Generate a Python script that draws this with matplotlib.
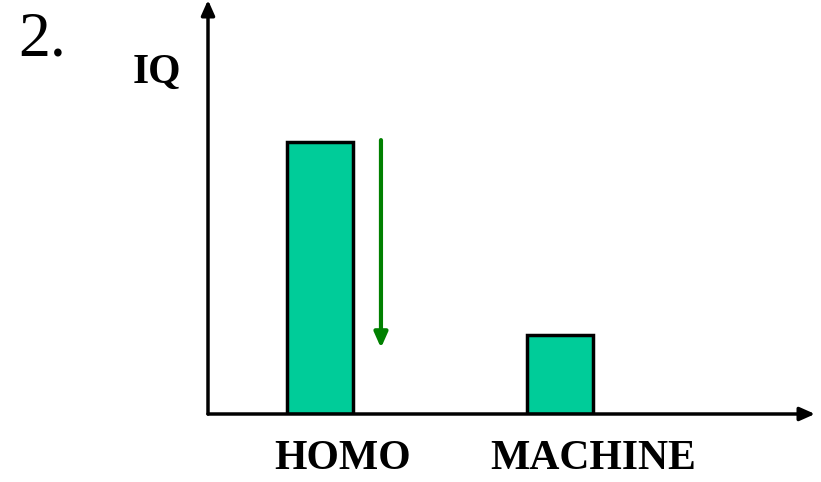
import matplotlib
matplotlib.use("Agg")
import matplotlib.pyplot as plt

# Data
categories = ["HOMO", "MACHINE"]
iq_values = [100, 29]
label_offsets = [0.092, 0.1375]  # labels sit a bit right of bar centers
trend_arrow = (0.254, 100.7, 24.3)  # x, y start, y end

fig = plt.figure(figsize=(8.21, 4.82), dpi=100)
ax = fig.add_axes([208 / 821, 68 / 482, 607 / 821, 414 / 482])

positions = list(range(len(categories)))
ax.bar(positions, iq_values, width=0.275, color="#00CC99", edgecolor="black", linewidth=2.5)
ax.set_xlim(-0.4667, 2.0625)
ax.set_ylim(0, 152.2)

for s in ax.spines.values():
    s.set_visible(False)
ax.set_yticks([])
ax.set_xticks([p + o for p, o in zip(positions, label_offsets)])
ax.set_xticklabels(categories, fontfamily="Liberation Serif", fontweight="bold", fontsize=30)
ax.tick_params(axis="x", length=0, pad=19)

# axis arrows
arrow_kw = dict(arrowstyle="-|>,head_length=0.9,head_width=0.4", color="black", lw=2.5, shrinkA=0, shrinkB=0)
ax.annotate("", xy=(0, 1.0), xytext=(0, 0), xycoords="axes fraction", arrowprops=arrow_kw)
ax.annotate("", xy=(1.0, 0.0), xytext=(0, 0), xycoords="axes fraction", arrowprops=arrow_kw)

# downward green arrow
x, y0, y1 = trend_arrow
ax.annotate("", xy=(x, y1), xytext=(x, y0),
            arrowprops=dict(arrowstyle="-|>,head_length=0.9,head_width=0.4", color="green", lw=3, shrinkA=0, shrinkB=0))

fig.text(157 / 821, 1 - 73 / 482, "IQ", fontfamily="Liberation Serif", fontweight="bold", fontsize=30,
         ha="center", va="center")
fig.text(18 / 821, 1 - 40 / 482, "2.", fontfamily="Liberation Serif", fontsize=46, ha="left", va="center")

fig.savefig("out.png", dpi=100)
